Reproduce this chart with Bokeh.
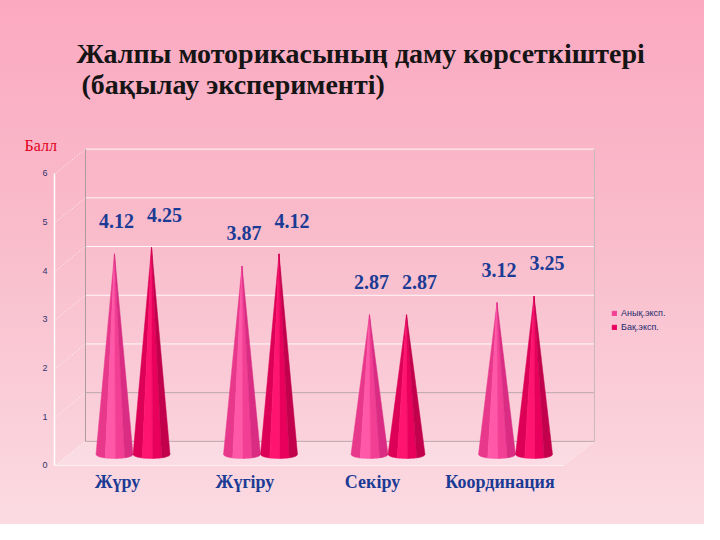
import numpy as np
from bokeh.plotting import figure
from bokeh.models import (
    ColumnDataSource,
    Range1d,
    LinearAxis,
    FixedTicker,
    Label,
    Legend,
    LegendItem,
)
from bokeh.core.properties import value
from bokeh.embed import file_html
from bokeh.resources import INLINE

# data
categories = ["Жүру", "Жүгіру", "Секіру", "Координация"]
series_names = ["Анық.эксп.", "Бақ.эксп."]
anyq_values = [4.12, 3.87, 2.87, 3.12]
baq_values = [4.25, 4.12, 2.87, 3.25]
y_ticks = [0, 1, 2, 3, 4, 5, 6]

title_line1 = "Жалпы моторикасының даму көрсеткіштері"
title_line2 = "(бақылау эксперименті)"
y_title = "Балл"

# styling
# third strip of each cone carries the series colour (used by the legend)
strip_colors = [
    ["#e8388c", "#ff58a8", "#f23f95", "#d92c82"],
    ["#dc0056", "#ff1470", "#e8005c", "#c2004c"],
]
label_color = "#1b3b94"
cone_offsets = [-0.0235, 0.267]   # position of each series inside a group
label_dx = [2, 13]                # label shift in px
half_width = 0.145
ellipse_h = 0.082
depth_back = 0.27                 # back wall sits a little higher
depth_front = -0.226              # front edge a little lower
wall_left, wall_right = -0.251, 3.741
front_left, front_right = -0.494, 3.498


def cone_strips(center, height, colors):
    edges = [-1.0, -0.5, 0.05, 0.55, 1.0]
    xs, ys = [], []
    for a, b in zip(edges[:-1], edges[1:]):
        t = np.linspace(a, b, 8)
        bx = center + t * half_width
        by = -ellipse_h * np.sqrt(np.clip(1 - t ** 2, 0, 1))
        xs.append(list(bx) + [center])
        ys.append(list(by) + [height])
    return xs, ys, list(colors)


p = figure(
    width=704,
    height=524,
    output_backend="svg",
    toolbar_location=None,
    x_range=Range1d(-0.9176, 4.604),
    y_range=Range1d(-1.437, 9.322),
    x_axis_type=None,
    y_axis_type=None,
    min_border_left=0,
    min_border_right=0,
    min_border_top=0,
    min_border_bottom=0,
)
p.outline_line_color = None
p.background_fill_alpha = 0
p.border_fill_alpha = 0
p.styles = {
    "background": "linear-gradient(180deg, #fba9c1 0%, #f9bccb 45%, #fbdbe3 100%)"
}

# axes, drawn at the front edge of the 3d box
p.extra_y_ranges = {"front": Range1d(-1.2115, 9.548)}
yaxis = LinearAxis(
    y_range_name="front",
    ticker=FixedTicker(ticks=y_ticks),
    bounds=(0, 6),
    fixed_location=front_left,
)
yaxis.axis_line_color = "white"
yaxis.axis_line_width = 1.5
yaxis.major_tick_line_color = None
yaxis.minor_tick_line_color = None
yaxis.major_tick_out = 0
yaxis.major_tick_in = 0
yaxis.major_label_standoff = 7
yaxis.major_label_text_font = "Liberation Sans"
yaxis.major_label_text_font_size = "9px"
yaxis.major_label_text_color = "#34346e"
p.add_layout(yaxis, "left")

xaxis = LinearAxis(
    ticker=FixedTicker(ticks=list(range(len(categories)))),
    major_label_overrides={i: c for i, c in enumerate(categories)},
    fixed_location=depth_front,
)
xaxis.axis_line_color = None
xaxis.major_tick_line_color = None
xaxis.minor_tick_line_color = None
xaxis.major_tick_out = 0
xaxis.major_tick_in = 0
xaxis.major_label_standoff = 6
xaxis.major_label_text_font = "Liberation Serif"
xaxis.major_label_text_font_style = "bold"
xaxis.major_label_text_font_size = "18px"
xaxis.major_label_text_color = label_color
p.add_layout(xaxis, "below")

# floor and back wall
p.patch(
    x=[front_left, front_right, wall_right, wall_left],
    y=[depth_front, depth_front, depth_back, depth_back],
    fill_color="white",
    fill_alpha=0.18,
    line_color=None,
)
p.segment(x0=front_left, y0=depth_front, x1=front_right, y1=depth_front,
          line_color="white", line_alpha=0.6, line_width=1)

grid_y = [k + depth_back for k in y_ticks]
grid_col = ["#b6a3ab" if k < 2 else "white" for k in y_ticks]
p.segment(
    x0=[wall_left] * len(grid_y), y0=grid_y,
    x1=[wall_right] * len(grid_y), y1=grid_y,
    line_color=grid_col, line_width=1, line_alpha=0.9,
)
p.segment(
    x0=[wall_left, wall_right], y0=[depth_back] * 2,
    x1=[wall_left, wall_right], y1=[6 + depth_back] * 2,
    line_color=["#ad9aa2", "#c9b8be"], line_width=1,
)
# dotted links from the front axis to the back wall
p.segment(
    x0=[front_left + 0.01] * len(y_ticks), y0=[k + depth_front for k in y_ticks],
    x1=[wall_left] * len(y_ticks), y1=grid_y,
    line_color="white", line_alpha=0.8, line_dash="1 2", line_width=1,
)
p.segment(x0=front_right, y0=depth_front, x1=wall_right, y1=depth_back,
          line_color="white", line_alpha=0.8, line_dash="1 2", line_width=1)

# cones
cone_renderers = []
for s, vals in enumerate([anyq_values, baq_values]):
    xs, ys, cols = [], [], []
    for g, v in enumerate(vals):
        a, b, c = cone_strips(g + cone_offsets[s], v, strip_colors[s])
        xs += a
        ys += b
        cols += c
    src = ColumnDataSource(dict(xs=xs, ys=ys, color=cols))
    r = p.patches("xs", "ys", source=src, fill_color="color", line_color="color",
                  line_width=0.5)
    cone_renderers.append(r)

# value labels
for s, vals in enumerate([anyq_values, baq_values]):
    src = ColumnDataSource(dict(
        x=[g + cone_offsets[s] for g in range(len(vals))],
        y=vals,
        txt=[f"{v:.2f}" for v in vals],
    ))
    p.text("x", "y", text="txt", source=src,
           x_offset=label_dx[s], y_offset=-33,
           text_align="center", text_baseline="middle",
           text_font=value("Liberation Serif"), text_font_style="bold",
           text_font_size="20px", text_color=label_color)

# legend
legend = Legend(
    items=[LegendItem(label=series_names[s], renderers=[cone_renderers[s]], index=2)
           for s in range(2)],
    location=(611, 192),
)
legend.background_fill_alpha = 0
legend.border_line_color = None
legend.padding = 0
legend.margin = 0
legend.spacing = 4
legend.glyph_width = 6
legend.glyph_height = 6
legend.label_height = 10
legend.label_standoff = 4
legend.label_text_font = "Liberation Sans"
legend.label_text_font_size = "9px"
legend.label_text_color = "#1e2a6e"
p.add_layout(legend)

# titles
title_style = dict(text_font="Liberation Serif", text_font_style="bold",
                   text_font_size="28px", text_color="#151515",
                   text_baseline="middle")
p.add_layout(Label(x=-0.322, y=8.24, text=title_line1, **title_style))
p.add_layout(Label(x=-0.282, y=7.60, text=title_line2, **title_style))
p.add_layout(Label(x=-0.729, y=6.345, text=y_title,
                   text_font="Liberation Serif", text_font_size="16px",
                   text_color="#e0001b", text_baseline="middle"))

open("out.html", "w").write(file_html(p, INLINE))
